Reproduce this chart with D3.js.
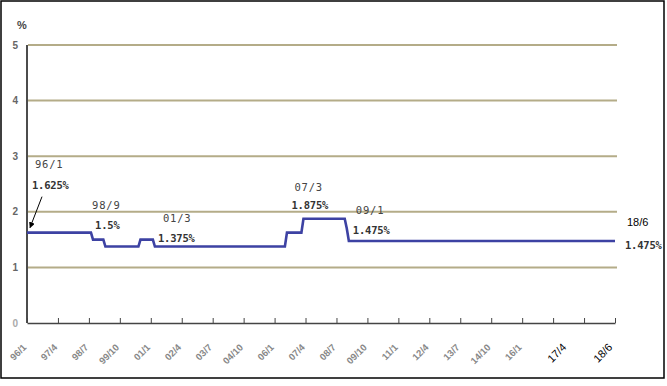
<!DOCTYPE html>
<html><head><meta charset="utf-8">
<script src="https://cdn.jsdelivr.net/npm/d3@7"></script>
<style>body{margin:0;background:#fff}svg{display:block}</style>
</head><body>
<script>
// ---- data ----
const dates = ["1996/01","1998/08","1998/09","1999/02","1999/03","2000/07","2000/08","2001/02","2001/03","2006/06","2006/07","2007/02","2007/03","2008/11","2008/12","2009/01","2019/10"];
const rates = [1.625,1.625,1.5,1.5,1.375,1.375,1.5,1.5,1.375,1.375,1.625,1.625,1.875,1.875,1.7,1.475,1.475];
const xTickLabels = ["96/1","97/4","98/7","99/10","01/1","02/4","03/7","04/10","06/1","07/4","08/7","09/10","11/1","12/4","13/7","14/10","16/1","17/4","18/6"];
const yTicks = [0,1,2,3,4,5];
const noteDates = ["1996/01","1998/09","2001/03","2007/03","2009/01","2019/10"];
const noteLabels = ["96/1","98/9","01/3","07/3","09/1","18/6"];
const noteRates = [1.625,1.5,1.375,1.875,1.475,1.475];
const noteRateText = ["1.625%","1.5%","1.375%","1.875%","1.475%","1.475%"];

// ---- helpers ----
const toMonth = s => { const [y,m] = s.split("/").map(Number); return (y-1996)*12 + (m-1); };
const W = 667, H = 386;
const svg = d3.select("body").append("svg").attr("width", W).attr("height", H);

const x = d3.scaleLinear().domain([0, 285]).range([27, 615]);
const y = d3.scaleLinear().domain([0, 5]).range([323, 45]);

// outer frame
svg.append("rect").attr("x",1).attr("y",1).attr("width",663).attr("height",377)
  .attr("fill","#fff").attr("stroke","#000").attr("stroke-width",1.5);

// grid lines
svg.append("g").selectAll("line").data(yTicks.filter(d=>d>0)).join("line")
  .attr("x1", x(0)+1).attr("x2", x(285)+2)
  .attr("y1", d=>y(d)).attr("y2", d=>y(d))
  .attr("stroke","#b4ac88").attr("stroke-width",2);

// y axis line
svg.append("line").attr("x1",x(0)).attr("x2",x(0)).attr("y1",y(5)).attr("y2",y(0))
  .attr("stroke","#111").attr("stroke-width",1.5);

// y labels
svg.append("g").selectAll("text").data(yTicks).join("text")
  .attr("x", 18).attr("y", d=>y(d)).attr("dy","0.35em")
  .attr("text-anchor","end")
  .attr("font-family","Liberation Sans, Arial, sans-serif").attr("font-size",10).attr("font-weight","bold")
  .attr("fill", d=> d===0 ? "#aaa" : "#666").text(d=>d);
svg.append("text").attr("x",17).attr("y",29)
  .attr("font-family","Liberation Sans, Arial, sans-serif").attr("font-size",11).attr("font-weight","bold")
  .attr("fill","#444").text("%");

// x axis
const tickMonths = d3.range(0, 286, 15);
const xAxis = d3.axisBottom(x).tickValues(tickMonths).tickSize(-5).tickSizeOuter(0).tickFormat("");
const gx = svg.append("g").attr("transform",`translate(0,${y(0)})`).call(xAxis);
gx.select(".domain").attr("stroke","#444").attr("stroke-width",1.5);
gx.selectAll(".tick line").attr("stroke","#444").attr("stroke-width",1);

// x tick labels
const extraShift = [0,0,0,0,0,0,0,0,0,0,0,0,0,0,0,0,0,14,29];
svg.append("g").selectAll("text").data(xTickLabels).join("text")
  .attr("transform",(d,i)=>`translate(${x(tickMonths[i]) + extraShift[i]},${y(0)+25}) rotate(-45)`)
  .attr("text-anchor","end")
  .attr("font-family","Liberation Sans, Arial, sans-serif")
  .attr("font-size",(d,i)=> i>=17 ? 11 : 9.5)
  .attr("font-weight",(d,i)=> i>=17 ? "normal" : "bold")
  .attr("fill",(d,i)=> i>=17 ? "#000" : "#888")
  .text(d=>d);

// data line
const pts = dates.map((d,i)=>[toMonth(d), rates[i]]);
svg.append("path").datum(pts)
  .attr("fill","none").attr("stroke","#3d42a3").attr("stroke-width",2.6)
  .attr("d", d3.line().x(d=>x(d[0])).y(d=>y(d[1])));

// annotations
const off = [
  {dx:8, dy1:-65, dx2:5, dy2:-44},
  {dx:-1, dy1:-31, dx2:2, dy2:-11},
  {dx:8, dy1:-25, dx2:3, dy2:-5},
  {dx:-9, dy1:-28, dx2:-12, dy2:-10},
  {dx:7, dy1:-27, dx2:4, dy2:-7},
  {dx:12, dy1:-15, dx2:10, dy2:8}
];
const ng = svg.append("g").attr("font-family","DejaVu Sans Mono, monospace");
noteLabels.forEach((lab,i)=>{
  const cx = x(toMonth(noteDates[i])), cy = y(noteRates[i]), o = off[i];
  const last = i===noteLabels.length-1;
  ng.append("text").attr("x",cx+o.dx).attr("y",cy+o.dy1)
    .attr("fill", last ? "#000" : "#444").attr("font-family", last ? "Liberation Sans, Arial, sans-serif" : null)
    .attr("font-size", last ? 11 : 10.5).attr("letter-spacing", last ? 0 : 0.8).text(lab);
  ng.append("text").attr("x",cx+o.dx2).attr("y",cy+o.dy2)
    .attr("fill","#333").attr("font-weight","bold").attr("font-size",10.5).attr("letter-spacing",-0.2)
    .text(noteRateText[i]);
});

// arrow for 96/1
svg.append("defs").append("marker").attr("id","ah").attr("viewBox","0 0 10 10")
  .attr("refX",9).attr("refY",5).attr("markerWidth",6).attr("markerHeight",6).attr("orient","auto")
  .append("path").attr("d","M0,0L10,5L0,10z").attr("fill","#000");
const ax = x(toMonth(noteDates[0])), ay = y(noteRates[0]);
svg.append("line").attr("x1",ax+15).attr("y1",ay-36).attr("x2",ax+3).attr("y2",ay-5)
  .attr("stroke","#000").attr("stroke-width",1).attr("marker-end","url(#ah)");
</script>
</body></html>
